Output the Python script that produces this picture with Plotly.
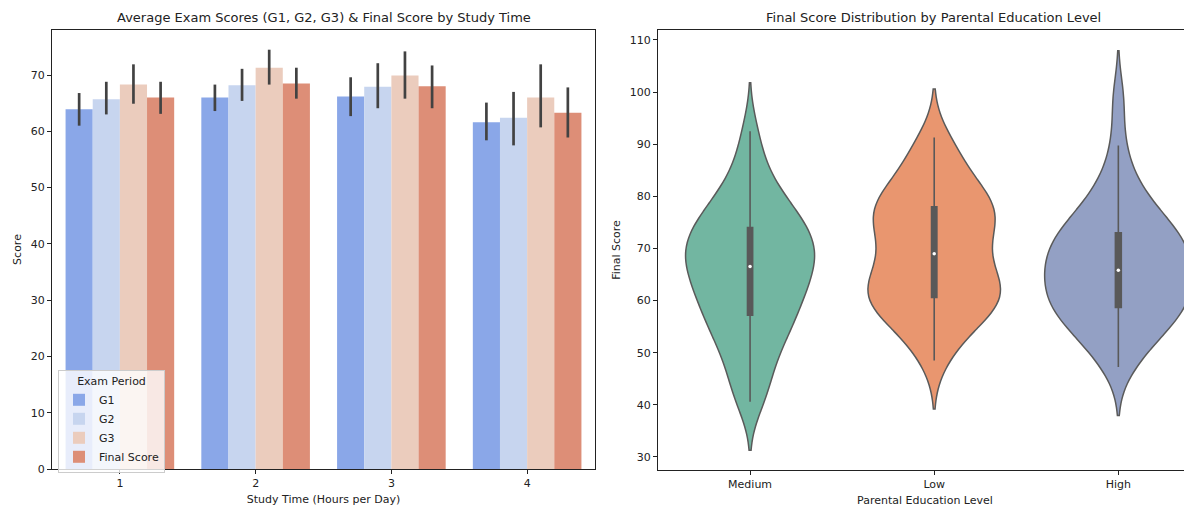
import numpy as np
import plotly.graph_objects as go

# ---------------- data: left panel ----------------
study_time = ["1", "2", "3", "4"]
periods = ["G1", "G2", "G3", "Final Score"]
mean_scores = {
    "G1":          [63.9, 66.0, 66.2, 61.6],
    "G2":          [65.7, 68.2, 67.9, 62.4],
    "G3":          [68.3, 71.3, 69.9, 66.0],
    "Final Score": [66.0, 68.5, 68.0, 63.3],
}
ci_low = {
    "G1":          [61.0, 63.6, 62.7, 58.4],
    "G2":          [63.0, 65.4, 64.1, 57.5],
    "G3":          [64.9, 68.3, 65.8, 60.7],
    "Final Score": [63.1, 65.8, 64.1, 58.9],
}
ci_high = {
    "G1":          [66.8, 68.3, 69.6, 65.1],
    "G2":          [68.8, 71.1, 72.1, 67.0],
    "G3":          [71.9, 74.5, 74.2, 71.9],
    "Final Score": [68.8, 71.3, 71.7, 67.8],
}

# ---------------- data: right panel ----------------
edu_levels = ["Medium", "Low", "High"]
final_medium = [40.6, 41.9, 45.3, 47.7, 49.8, 51.4, 53.0, 54.2, 55.5, 56.7,
                57.7, 58.8, 59.8, 60.8, 61.7, 62.6, 63.5, 64.4, 65.3, 66.2,
                66.9, 67.6, 68.4, 69.0, 69.8, 70.5, 71.2, 72.0, 72.8, 73.6,
                74.4, 75.4, 76.4, 77.4, 78.6, 79.9, 81.8, 84.0, 87.5, 92.5]
final_low = [48.5, 51.5, 53.5, 55.2, 56.5, 57.5, 58.3, 59.0, 59.7, 60.3,
             60.9, 61.5, 62.1, 62.7, 63.4, 64.2, 65.2, 66.3, 67.5, 68.6,
             69.4, 70.6, 71.8, 72.9, 73.9, 74.8, 75.6, 76.3, 77.0, 77.7,
             78.3, 79.0, 79.8, 80.8, 82.0, 83.5, 85.2, 87.2, 89.3, 91.3]
final_high = [47.25, 49.5, 51.5, 53.0, 54.3, 55.4, 56.3, 57.1, 57.8, 58.4,
              59.0, 59.7, 60.4, 61.1, 61.9, 62.7, 63.5, 64.3, 65.0, 65.6,
              66.0, 66.7, 67.5, 68.3, 69.1, 69.9, 70.6, 71.3, 72.0, 72.7,
              73.3, 74.2, 75.2, 76.4, 77.8, 79.5, 81.5, 84.0, 89.75, 98.6]
final_by_level = {"Medium": final_medium, "Low": final_low, "High": final_high}

# ---------------- styles ----------------
bar_colors = {"G1": "#8aa7e8", "G2": "#c7d5ef", "G3": "#ebccbd", "Final Score": "#dd8e77"}
violin_colors = {"Medium": "#72b6a1", "Low": "#e9966f", "High": "#93a0c4"}
violin_widths = {"Medium": 0.70, "Low": 0.72, "High": 0.80}
FONT = "DejaVu Sans"
PAGE_W, PAGE_H = 1192, 509
OFF = 8  # default body margin of the page
W, H = PAGE_W - OFF, PAGE_H - OFF


def px_x(p):
    return (p - OFF) / W


def px_y(p):
    return (PAGE_H - p) / H


fig = go.Figure()

for per in periods:
    vals = np.array(mean_scores[per])
    hi = np.array(ci_high[per])
    lo = np.array(ci_low[per])
    fig.add_trace(go.Bar(
        x=study_time, y=vals, name=per,
        marker=dict(color=bar_colors[per], line=dict(width=0)),
        error_y=dict(type="data", symmetric=False, array=hi - vals, arrayminus=vals - lo,
                     color="#424242", thickness=2.7, width=0),
        xaxis="x", yaxis="y",
    ))

for lvl in edu_levels:
    data = final_by_level[lvl]
    fig.add_trace(go.Violin(
        x=[lvl] * len(data), y=data, name=lvl, showlegend=False,
        fillcolor=violin_colors[lvl], opacity=1,
        line=dict(color="#5a5a5a", width=1.5),
        bandwidth=4.65, spanmode="soft", scalemode="width",
        width=violin_widths[lvl], points=False,
        box=dict(visible=True, width=0.04, fillcolor="#595959",
                 line=dict(color="#595959", width=1.6)),
        meanline=dict(visible=False),
        xaxis="x2", yaxis="y2", hoverinfo="skip",
    ))
    fig.add_trace(go.Scatter(
        x=[lvl], y=[float(np.median(data))], mode="markers", showlegend=False,
        marker=dict(color="white", size=3.5), xaxis="x2", yaxis="y2", hoverinfo="skip",
    ))

axis_common = dict(showline=True, linecolor="#222222", linewidth=1.2, ticks="outside",
                   ticklen=4, tickcolor="#222222", showgrid=False, zeroline=False,
                   automargin=False,
                   tickfont=dict(size=11, color="#222222", family=FONT))

fig.update_layout(
    width=W, height=H, margin=dict(l=0, r=0, t=0, b=0, autoexpand=False),
    paper_bgcolor="white", plot_bgcolor="white",
    font=dict(family=FONT, color="#222222"),
    barmode="group", bargap=0.2, bargroupgap=0,
    violinmode="overlay",
    xaxis=dict(domain=[px_x(52), px_x(595)], anchor="y", range=[-0.5, 3.5], mirror=True,
               title=dict(text="Study Time (Hours per Day)", font=dict(size=11), standoff=6),
               **axis_common),
    yaxis=dict(domain=[px_y(469), px_y(30)], anchor="x", range=[0, 78], mirror=True,
               tickvals=[0, 10, 20, 30, 40, 50, 60, 70],
               title=dict(text="Score", font=dict(size=11), standoff=6),
               **axis_common),
    xaxis2=dict(domain=[px_x(658), 1.0], anchor="y2", range=[-0.5, 2.4], mirror=True,
                categoryorder="array", categoryarray=edu_levels,
                title=dict(text="Parental Education Level", font=dict(size=11), standoff=6),
                **axis_common),
    yaxis2=dict(domain=[px_y(470), px_y(30)], anchor="x2", range=[27.5, 111.9],
                tickvals=[30, 40, 50, 60, 70, 80, 90, 100, 110],
                title=dict(text="Final Score", font=dict(size=11), standoff=6),
                **axis_common),
    legend=dict(x=px_x(58), y=px_y(370), xanchor="left", yanchor="top",
                bgcolor="rgba(255,255,255,0.8)", bordercolor="#cccccc", borderwidth=1,
                font=dict(size=11, family=FONT),
                title=dict(text="Exam Period", side="top center", font=dict(size=11)),
                itemwidth=30, tracegroupgap=0),
    annotations=[
        dict(text="Average Exam Scores (G1, G2, G3) & Final Score by Study Time",
             x=(px_x(52) + px_x(595)) / 2, y=px_y(18), xref="paper", yref="paper",
             showarrow=False, font=dict(size=13, family=FONT), xanchor="center", yanchor="middle"),
        dict(text="Final Score Distribution by Parental Education Level",
             x=(px_x(658) + px_x(1210)) / 2, y=px_y(18), xref="paper", yref="paper",
             showarrow=False, font=dict(size=13, family=FONT), xanchor="center", yanchor="middle"),
    ],
)

fig.write_html("out.html")
